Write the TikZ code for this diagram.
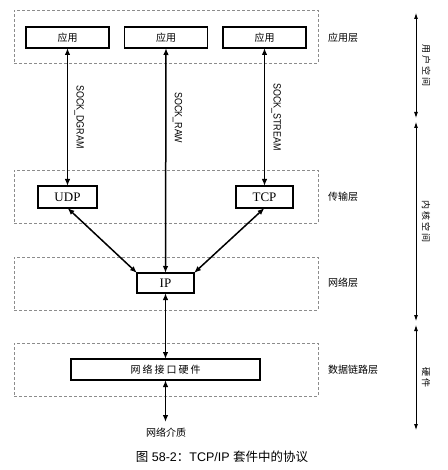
\documentclass[tikz,border=0pt]{standalone}
\usepackage{fontspec}
\setmainfont{Liberation Serif}
\newfontfamily\cjk{Noto Sans CJK SC}
\newfontfamily\cjkwide{Noto Sans CJK SC}[LetterSpace=20]
\newfontfamily\sockfont{Liberation Sans}[FakeStretch=0.85]
\newfontfamily\capfont{Liberation Sans}
\usetikzlibrary{arrows.meta}

\begin{document}
\begin{tikzpicture}[x=1pt,y=-1pt,
  layer/.style={draw=black!45, dash pattern=on 3pt off 2pt, line width=0.8pt, minimum width=304pt, minimum height=53pt, inner sep=0pt},
  proto/.style={draw, line width=1.4pt, inner sep=0pt, outer sep=0pt, minimum height=21pt, font=\fontsize{13}{15}\selectfont},
  app/.style={proto, minimum width=83pt, font=\cjk\fontsize{10}{12}\selectfont},
  layername/.style={anchor=west, inner sep=0pt, font=\cjk\fontsize{10}{12}\selectfont},
  sock/.style={rotate=-90, anchor=south, inner sep=0pt, outer sep=7pt, font=\sockfont\fontsize{10.5}{12}\selectfont},
  link/.style={{Latex[length=7pt,width=5.5pt]}-{Latex[length=7pt,width=5.5pt]}, line width=1.5pt},
  span/.style={{Latex[length=6pt,width=4pt]}-{Latex[length=6pt,width=4pt]}, line width=0.8pt},
  spanname/.style={rotate=-90, anchor=south, inner sep=0pt, outer sep=6pt, font=\cjkwide\fontsize{9}{11}\selectfont}]

  \useasboundingbox (0,0) rectangle (447,470);

  % layers
  \node[name=lapp, layer] at (166,36.5) {};
  \node[name=ltrans, layer] at (166,196.5) {};
  \node[name=lnet, layer] at (166,283.5) {};
  \node[name=llink, layer] at (166,369.5) {};
  \node[layername] at (328,38) {应用层};
  \node[layername] at (328,197) {传输层};
  \node[layername] at (328,283) {网络层};
  \node[layername] at (328,370) {数据链路层};

  % boxes
  \node[name=app1, app] at (67.5,37.5) {应用};
  \node[name=app2, app] at (166,37.5) {应用};
  \node[name=app3, app] at (264.5,37.5) {应用};
  \node[name=udp, proto, minimum width=59pt, minimum height=22pt] at (67.5,197) {UDP};
  \node[name=tcp, proto, minimum width=57pt, minimum height=22pt] at (264.5,197) {TCP};
  \node[name=ip, proto, minimum width=57pt, minimum height=20pt] at (165.5,283) {IP};
  \node[name=hw, proto, minimum width=189pt, font=\cjkwide\fontsize{10}{12}\selectfont] at (165.5,369.5) {网络接口硬件};
  \coordinate (medium) at (165.5,422);
  \node[name=mediumname, font=\cjk\fontsize{10}{12}\selectfont] at (166,433) {网络介质};

  % connectors
  \draw[link] (app1.south) -- node[sock] {SOCK\_DGRAM} (udp.north);
  \draw[link] (app2.south) -- node[sock, pos=0.31] {SOCK\_RAW} (ip.north);
  \draw[link] (app3.south) -- node[sock] {SOCK\_STREAM} (tcp.north);
  \draw[link] (udp.south) -- (ip.north west);
  \draw[link] (tcp.south) -- (ip.north east);
  \draw[link] (ip.south) -- (hw.north);
  \draw[link] (hw.south) -- (medium);

  % spaces
  \coordinate (u1) at (416,13);
  \coordinate (u2) at (416,118);
  \coordinate (k1) at (416,122);
  \coordinate (k2) at (416,321);
  \coordinate (h1) at (416,325);
  \coordinate (h2) at (416,430);
  \draw[span] (u1) -- node[spanname] {用户空间} (u2);
  \draw[span] (k1) -- node[spanname] {内核空间} (k2);
  \draw[span] (h1) -- node[spanname] {硬件} (h2);

  \node[name=caption, font=\capfont\fontsize{12.5}{14}\selectfont] at (222,457) {{\cjk 图} 58-2{\cjk ：}TCP/IP {\cjk 套件中的协议}};
\end{tikzpicture}
\end{document}
